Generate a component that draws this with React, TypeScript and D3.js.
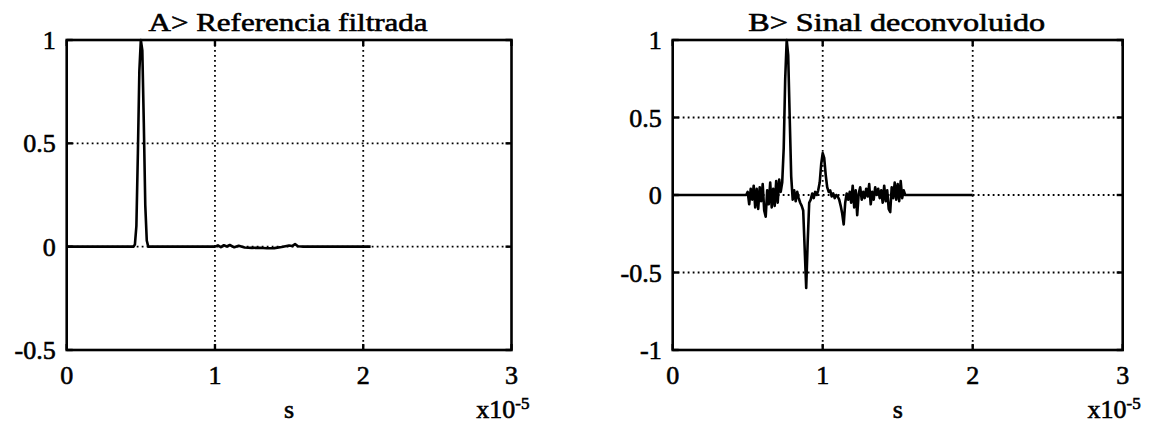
import React from "react";
import * as d3 from "d3";

// ---- data (time in units of 1e-5 s) ----
const timeA = [0, 0.45, 0.46, 0.47, 0.48, 0.49, 0.5, 0.51, 0.52, 0.53, 0.54, 0.55, 1.0, 1.02, 1.04, 1.06, 1.08, 1.1, 1.13, 1.16, 1.2, 1.25, 1.3, 1.35, 1.4, 1.45, 1.5, 1.52, 1.54, 1.56, 1.6, 2.05];
const valueA = [0, 0, 0.01, 0.1, 0.45, 0.85, 1.0, 0.95, 0.6, 0.2, 0.03, 0, 0, 0.006, -0.002, 0.007, 0.001, 0.008, -0.003, 0.004, -0.004, -0.006, -0.005, -0.008, -0.007, -0.002, 0.006, 0.003, 0.012, 0.002, 0, 0];

const timeB = [
  0, 0.49, 0.5, 0.51, 0.52, 0.53, 0.54, 0.55, 0.56, 0.57, 0.58, 0.59, 0.6, 0.61, 0.62, 0.63, 0.64, 0.65, 0.66, 0.67, 0.68, 0.69, 0.7, 0.71, 0.72, 0.73,
  0.74, 0.75, 0.76, 0.77, 0.78, 0.79, 0.8, 0.81, 0.82, 0.83, 0.84, 0.85, 0.86, 0.87, 0.88, 0.89, 0.9, 0.91, 0.92, 0.93, 0.94, 0.95, 0.96, 0.97,
  0.98, 0.99, 1.0, 1.01, 1.02, 1.03, 1.04, 1.05, 1.06, 1.07, 1.08, 1.09, 1.1, 1.11, 1.12, 1.13, 1.14, 1.15, 1.16, 1.17, 1.18, 1.19, 1.2, 1.21,
  1.22, 1.23, 1.24, 1.25, 1.26, 1.27, 1.28, 1.29, 1.3, 1.31, 1.32, 1.33, 1.34, 1.35, 1.36, 1.37, 1.38, 1.39, 1.4, 1.41, 1.42, 1.43, 1.44, 1.45,
  1.46, 1.47, 1.48, 1.49, 1.5, 1.51, 1.52, 1.53, 1.54, 1.55, 2.0,
];
const valueB = [
  0, 0, 0.02, -0.06, 0.04, -0.03, 0.06, -0.08, 0.04, -0.09, 0.05, -0.04, 0.07, -0.1, -0.14, 0.03, -0.06, 0.08, -0.08, 0.04, -0.07, 0.09, -0.05, 0.1, 0.02, 0.08,
  0.3, 0.75, 1.0, 0.9, 0.5, 0.12, -0.03, 0.03, -0.04, 0.02, -0.02, -0.05, -0.07, -0.1, -0.35, -0.6, -0.3, -0.05, -0.03, 0.01, -0.02, 0.02, 0.0, 0.03,
  0.08, 0.2, 0.27, 0.24, 0.13, 0.05, 0.02, 0.03, -0.01, 0.01, -0.02, 0.0, -0.01, -0.03, -0.07, -0.12, -0.19, -0.05, 0.01, -0.03, 0.02, -0.05, 0.06, -0.08,
  0.03, -0.13, 0.01, 0.05, -0.03, 0.02, -0.02, 0.04, -0.01, 0.07, -0.06, 0.02, -0.03, 0.05, 0.0, 0.04, -0.02, 0.03, -0.05, 0.06, -0.04, 0.03, -0.09, -0.11,
  0.05, -0.02, 0.08, -0.03, 0.07, -0.04, 0.09, -0.02, 0.03, 0.0, 0,
];

const xTicks = [0, 1, 2, 3];
const yTicksA = [-0.5, 0, 0.5, 1];
const yTicksB = [-1, -0.5, 0, 0.5, 1];
const titleA = "A>  Referencia filtrada";
const titleB = "B>  Sinal deconvoluido";
const xLabel = "s";
const xExpBase = "x10";
const xExpPower = "-5";

const FONT = "Liberation Serif";

type PanelProps = {
  left: number;
  right: number;
  yDomain: [number, number];
  yTicks: number[];
  times: number[];
  values: number[];
  title: string;
  titleWidth: number;
};

function Panel({ left, right, yDomain, yTicks, times, values, title, titleWidth }: PanelProps) {
  const top = 40;
  const bottom = 350;
  const x = d3.scaleLinear().domain([0, 3]).range([left, right]);
  const y = d3.scaleLinear().domain(yDomain).range([bottom, top]);
  const pts = times.map((t, i) => [t, values[i]] as [number, number]);
  const line = d3
    .line<[number, number]>()
    .x((d) => x(d[0]))
    .y((d) => y(d[1]));
  const tickLen = 6;
  const cx = (left + right) / 2;
  const txt = { fontFamily: FONT, fill: "#000", stroke: "#000", strokeWidth: 0.6 } as const;
  return (
    <g>
      {/* grid */}
      {xTicks
        .filter((t) => t > 0 && t < 3)
        .map((t) => (
          <line key={"gx" + t} x1={x(t)} x2={x(t)} y1={top} y2={bottom} stroke="#000" strokeWidth={1.8} strokeDasharray="1.8,3.2" />
        ))}
      {yTicks
        .filter((t) => t > yDomain[0] && t < yDomain[1])
        .map((t) => (
          <line key={"gy" + t} x1={left} x2={right} y1={y(t)} y2={y(t)} stroke="#000" strokeWidth={1.8} strokeDasharray="1.8,3.2" />
        ))}
      {/* ticks */}
      {xTicks.map((t) => (
        <g key={"tx" + t}>
          <line x1={x(t)} x2={x(t)} y1={bottom} y2={bottom - tickLen} stroke="#000" strokeWidth={2.4} />
          <line x1={x(t)} x2={x(t)} y1={top} y2={top + tickLen} stroke="#000" strokeWidth={2.4} />
          <text x={x(t)} y={384} textAnchor="middle" fontSize={26} {...txt}>
            {t}
          </text>
        </g>
      ))}
      {yTicks.map((t) => (
        <g key={"ty" + t}>
          <line x1={left} x2={left + tickLen} y1={y(t)} y2={y(t)} stroke="#000" strokeWidth={2.4} />
          <line x1={right} x2={right - tickLen} y1={y(t)} y2={y(t)} stroke="#000" strokeWidth={2.4} />
          <text x={left - 11} y={y(t) + 9} textAnchor="end" fontSize={26} {...txt}>
            {t}
          </text>
        </g>
      ))}
      {/* signal */}
      <path d={line(pts) || ""} fill="none" stroke="#000" strokeWidth={2.6} strokeLinejoin="round" />
      {/* frame */}
      <rect x={left} y={top} width={right - left} height={bottom - top} fill="none" stroke="#000" strokeWidth={2.6} />
      {/* title */}
      <text x={cx - 1} y={31} textAnchor="middle" fontSize={26} textLength={titleWidth} lengthAdjust="spacingAndGlyphs" {...txt}>
        {title}
      </text>
      {/* x label */}
      <text x={cx} y={418} textAnchor="middle" fontSize={26} {...txt}>
        {xLabel}
      </text>
      <text x={right + 18} y={418} textAnchor="end" fontSize={26} {...txt}>
        {xExpBase}
        <tspan fontSize={17} dy={-9}>
          {xExpPower}
        </tspan>
      </text>
    </g>
  );
}

export default function App() {
  return (
    <svg width={1162} height={434} style={{ position: "absolute", left: 0, top: 0, background: "#fff", fontFamily: FONT }}>
      <rect x={0} y={0} width={1162} height={434} fill="#fff" />
      <Panel left={66.7} right={511.5} yDomain={[-0.5, 1]} yTicks={yTicksA} times={timeA} values={valueA} title={titleA} titleWidth={279} />
      <Panel left={672.7} right={1122.7} yDomain={[-1, 1]} yTicks={yTicksB} times={timeB} values={valueB} title={titleB} titleWidth={297} />
    </svg>
  );
}
